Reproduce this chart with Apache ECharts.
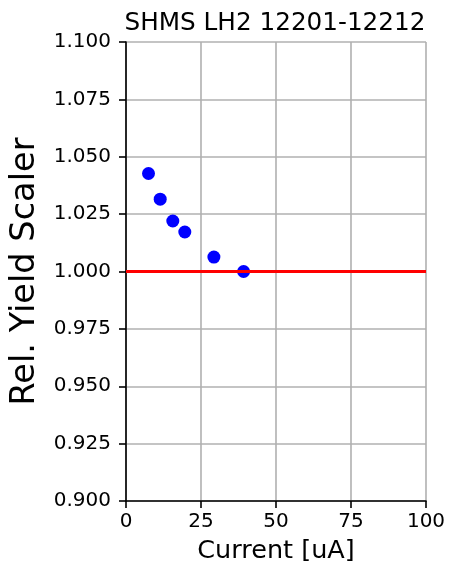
<!DOCTYPE html>
<html><head><meta charset="utf-8">
<script src="https://cdn.jsdelivr.net/npm/echarts@6/dist/echarts.min.js"></script>
<style>html,body{margin:0;padding:0;background:#fff}#c{width:449px;height:569px}</style>
</head><body><div id="c"></div>
<script>
var currents = [7.5, 11.4, 15.6, 19.6, 29.3, 39.2];
var yields = [1.0427, 1.0315, 1.0220, 1.0172, 1.0063, 1.0000];
var refLevel = 1.0;
var xTicks = [0, 25, 50, 75, 100];
var yTicks = [0.900, 0.925, 0.950, 0.975, 1.000, 1.025, 1.050, 1.075, 1.100];
var titleText = 'SHMS LH2 12201-12212';
var xName = 'Current [uA]';
var yName = 'Rel. Yield Scaler';

var font = 'DejaVu Sans';
var chart = echarts.init(document.getElementById('c'), null, {renderer: 'canvas'});
chart.setOption({
  animation: false,
  backgroundColor: '#fff',
  title: {text: titleText, left: 270, textAlign: 'center', top: 6,
    textStyle: {fontFamily: font, fontSize: 24.7, fontWeight: 'normal', color: '#000'}},
  grid: {left: 126, right: 23, top: 42, bottom: 68, containLabel: false},
  xAxis: {
    type: 'value', min: xTicks[0], max: xTicks[xTicks.length-1], interval: 25,
    name: xName, nameLocation: 'middle', nameGap: 37,
    nameTextStyle: {fontFamily: font, fontSize: 25.5, color: '#000'},
    axisLine: {show: true, onZero: false, lineStyle: {color: '#000', width: 1.6}},
    axisTick: {show: true, length: 7, lineStyle: {color: '#000', width: 1.6}},
    axisLabel: {fontFamily: font, fontSize: 20, color: '#000', margin: 11},
    splitLine: {show: true, lineStyle: {color: '#b0b0b0', width: 1.6}}
  },
  yAxis: {
    type: 'value', min: yTicks[0], max: yTicks[yTicks.length-1], interval: 0.025,
    name: yName, nameLocation: 'middle', nameGap: 84, nameRotate: 90,
    nameTextStyle: {fontFamily: font, fontSize: 33.6, color: '#000'},
    axisLine: {show: true, onZero: false, lineStyle: {color: '#000', width: 1.6}},
    axisTick: {show: true, length: 7, lineStyle: {color: '#000', width: 1.6}},
    axisLabel: {fontFamily: font, fontSize: 20, color: '#000', margin: 15,
      formatter: function (v) { return v.toFixed(3); }},
    splitLine: {show: true, lineStyle: {color: '#b0b0b0', width: 1.6}}
  },
  series: [{
    type: 'scatter',
    data: currents.map(function (x, i) { return [x, yields[i]]; }),
    symbol: 'circle', symbolSize: 13,
    itemStyle: {color: '#0000ff', opacity: 1},
    z: 3,
    markLine: {
      silent: true, symbol: ['none', 'none'], label: {show: false},
      lineStyle: {color: '#ff0000', width: 3, type: 'solid'},
      data: [{yAxis: refLevel}]
    }
  }]
});
</script></body></html>
